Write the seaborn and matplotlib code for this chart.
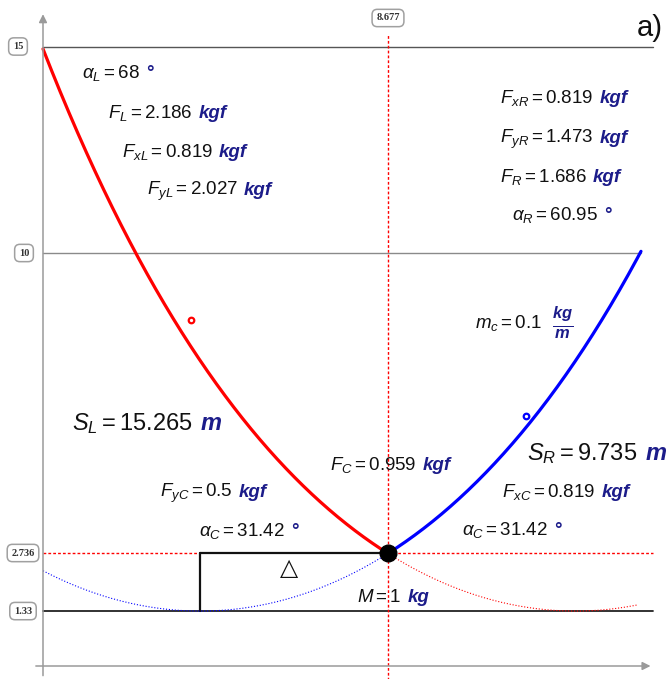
import numpy as np
import pandas as pd
import seaborn as sns
import matplotlib.pyplot as plt
from matplotlib.transforms import IdentityTransform

# valeurs (chaînette avec masse M)
y_min = 1.33            # point bas des deux chaînettes
x_C, y_C = 8.677, 2.736 # position de la masse
y_left, y_right = 15, 10
F_x = 0.819             # kgf, composante horizontale
m_c = 0.1               # kg/m
x_min_red = 13.39       # sommet bas de la chaînette rouge
x_min_blue = 3.96       # sommet bas de la chaînette bleue
x_right = 15.04         # ancrage droit
x_red_dotted_end = 14.95

left_labels = [r"$\alpha_L = 68$", r"$F_L = 2.186$", r"$F_{xL} = 0.819$", r"$F_{yL} = 2.027$"]
right_labels = [r"$F_{xR} = 0.819$", r"$F_{yR} = 1.473$", r"$F_R = 1.686$", r"$\alpha_R = 60.95$"]
left_units = ["°", "kgf", "kgf", "kgf"]
right_units = ["kgf", "kgf", "kgf", "°"]
tick_y = [15, 10, 2.736, 1.33]

W, H = 668, 679
sns.set_theme(style="white")
plt.rcParams["font.family"] = ["Liberation Sans", "DejaVu Sans"]
plt.rcParams["mathtext.fontset"] = "custom"
plt.rcParams["mathtext.rm"] = "Liberation Sans"
plt.rcParams["mathtext.it"] = "Liberation Sans:italic"
plt.rcParams["mathtext.bf"] = "Liberation Sans:bold:italic"

fig = plt.figure(figsize=(W / 100, H / 100), dpi=100)
ax = fig.add_axes([0, 0, 1, 1])
ax.set_xlim(-43 / 39.76, 625 / 39.76)
ax.set_ylim(-13 / 41.3, 666 / 41.3)
ax.axis("off")

a = F_x / m_c


def cat(x, x0):
    return y_min + a * (np.cosh((x - x0) / a) - 1)


red = pd.DataFrame({"x": np.linspace(0, x_C, 200)})
red["y"] = cat(red["x"], x_min_red)
blue = pd.DataFrame({"x": np.linspace(x_C, x_right, 200)})
blue["y"] = cat(blue["x"], x_min_blue)
red_dot = pd.DataFrame({"x": np.linspace(x_C, x_red_dotted_end, 200)})
red_dot["y"] = cat(red_dot["x"], x_min_red)
blue_dot = pd.DataFrame({"x": np.linspace(0, x_C, 200)})
blue_dot["y"] = cat(blue_dot["x"], x_min_blue)

# axes et lignes de repère
ax.annotate("", xy=(0, 15.85), xytext=(0, -0.3),
            arrowprops=dict(arrowstyle="-|>", color="#9a9a9a", lw=1.1, mutation_scale=12))
ax.annotate("", xy=(15.35, 0), xytext=(-0.25, 0),
            arrowprops=dict(arrowstyle="-|>", color="#9a9a9a", lw=1.1, mutation_scale=12))
ax.plot([0, 15.35], [y_left, y_left], color="#555555", lw=1)
ax.plot([0, x_right], [y_right, y_right], color="#8a8a8a", lw=1)
ax.plot([0, 15.35], [y_min, y_min], color="#222222", lw=1.3)
ax.plot([0, x_min_blue], [y_C, y_C], color="red", lw=1, ls=(0, (2, 1.5)))
ax.plot([x_C, 15.35], [y_C, y_C], color="red", lw=1, ls=(0, (2, 1.5)))
ax.plot([x_min_blue, x_C], [y_C, y_C], color="#111111", lw=1.6)
ax.plot([x_min_blue, x_min_blue], [y_min, y_C], color="#111111", lw=1.6)
ax.plot([x_C, x_C], [-0.4, 15.3], color="red", lw=1, ls=(0, (2, 1.5)))

sns.lineplot(data=red_dot, x="x", y="y", ax=ax, color="red", lw=0.8, ls=":", sort=False)
sns.lineplot(data=blue_dot, x="x", y="y", ax=ax, color="blue", lw=0.8, ls=":", sort=False)
sns.lineplot(data=red, x="x", y="y", ax=ax, color="red", lw=2.3, sort=False)
sns.lineplot(data=blue, x="x", y="y", ax=ax, color="blue", lw=2.3, sort=False)

ax.plot([x_C], [y_C], "o", color="black", ms=12)
ax.plot([3.73], [8.37], "o", ms=4, mfc="white", mec="red", mew=1.6)
ax.plot([12.14], [6.06], "o", ms=4, mfc="white", mec="blue", mew=1.6)

navy = "#1c1c8a"


def label(px, py, math, unit=None, size=13.5, gap=6):
    t = ax.text(px / W, 1 - py / H, math, transform=ax.transAxes, fontsize=size,
                va="baseline", ha="left", color="#111111")
    if unit:
        bb = t.get_window_extent(fig.canvas.get_renderer())
        if unit == "°":
            ax.text(bb.x1 + gap, H - py, "°", transform=IdentityTransform(), fontsize=size,
                    fontweight="bold", color=navy, va="baseline", ha="left")
        else:
            ax.text(bb.x1 + gap, H - py, unit, transform=IdentityTransform(), fontsize=size,
                    fontweight="bold", style="italic", color=navy, va="baseline", ha="left")


for (px, py), s, u in zip([(82, 78), (108, 118), (122, 157), (147, 195)], left_labels, left_units):
    label(px, py, s, u)
for (px, py), s, u in zip([(500, 103), (500, 143), (500, 182), (512, 220)], right_labels, right_units):
    label(px, py, s, u)

label(475, 328, r"$m_c = 0.1$")
ax.text(563 / W, 1 - 323 / H, r"$\mathbf{\frac{kg}{m}}$", transform=ax.transAxes,
        fontsize=17, color=navy, ha="center", va="center")
label(72, 430, r"$S_L = 15.265$", "m", size=17, gap=8)
label(527, 460, r"$S_R = 9.735$", "m", size=17, gap=8)
label(330, 470, r"$F_C = 0.959$", "kgf")
label(160, 497, r"$F_{yC} = 0.5$", "kgf")
label(502, 497, r"$F_{xC} = 0.819$", "kgf")
label(199, 536, r"$\alpha_C = 31.42$", "°")
label(462, 535, r"$\alpha_C = 31.42$", "°")
label(357, 602, r"$M = 1$", "kg")
ax.text(637 / W, 1 - 36 / H, "a)", transform=ax.transAxes, fontsize=21, va="baseline", color="#111111")
ax.text(289 / W, 1 - 568 / H, "△", transform=ax.transAxes, fontsize=17, ha="center", va="center",
        family=["DejaVu Sans"], color="#111111")

box = dict(boxstyle="round,pad=0.4,rounding_size=0.5", fc="white", ec="#a0a0a0", lw=1.1)
for yv, px in zip(tick_y, [18, 24, 23, 23]):
    ax.text(px / W, yv, f"{yv:g}", transform=ax.get_yaxis_transform(), fontsize=7.5,
            family="Liberation Serif", fontweight="bold", color="#333333",
            ha="center", va="center", bbox=box)
ax.text(x_C, 1 - 18 / H, f"{x_C:g}", transform=ax.get_xaxis_transform(), fontsize=7.5,
        family="Liberation Serif", fontweight="bold", color="#333333",
        ha="center", va="center", bbox=box)

fig.savefig("out.png", dpi=100, facecolor="white")
